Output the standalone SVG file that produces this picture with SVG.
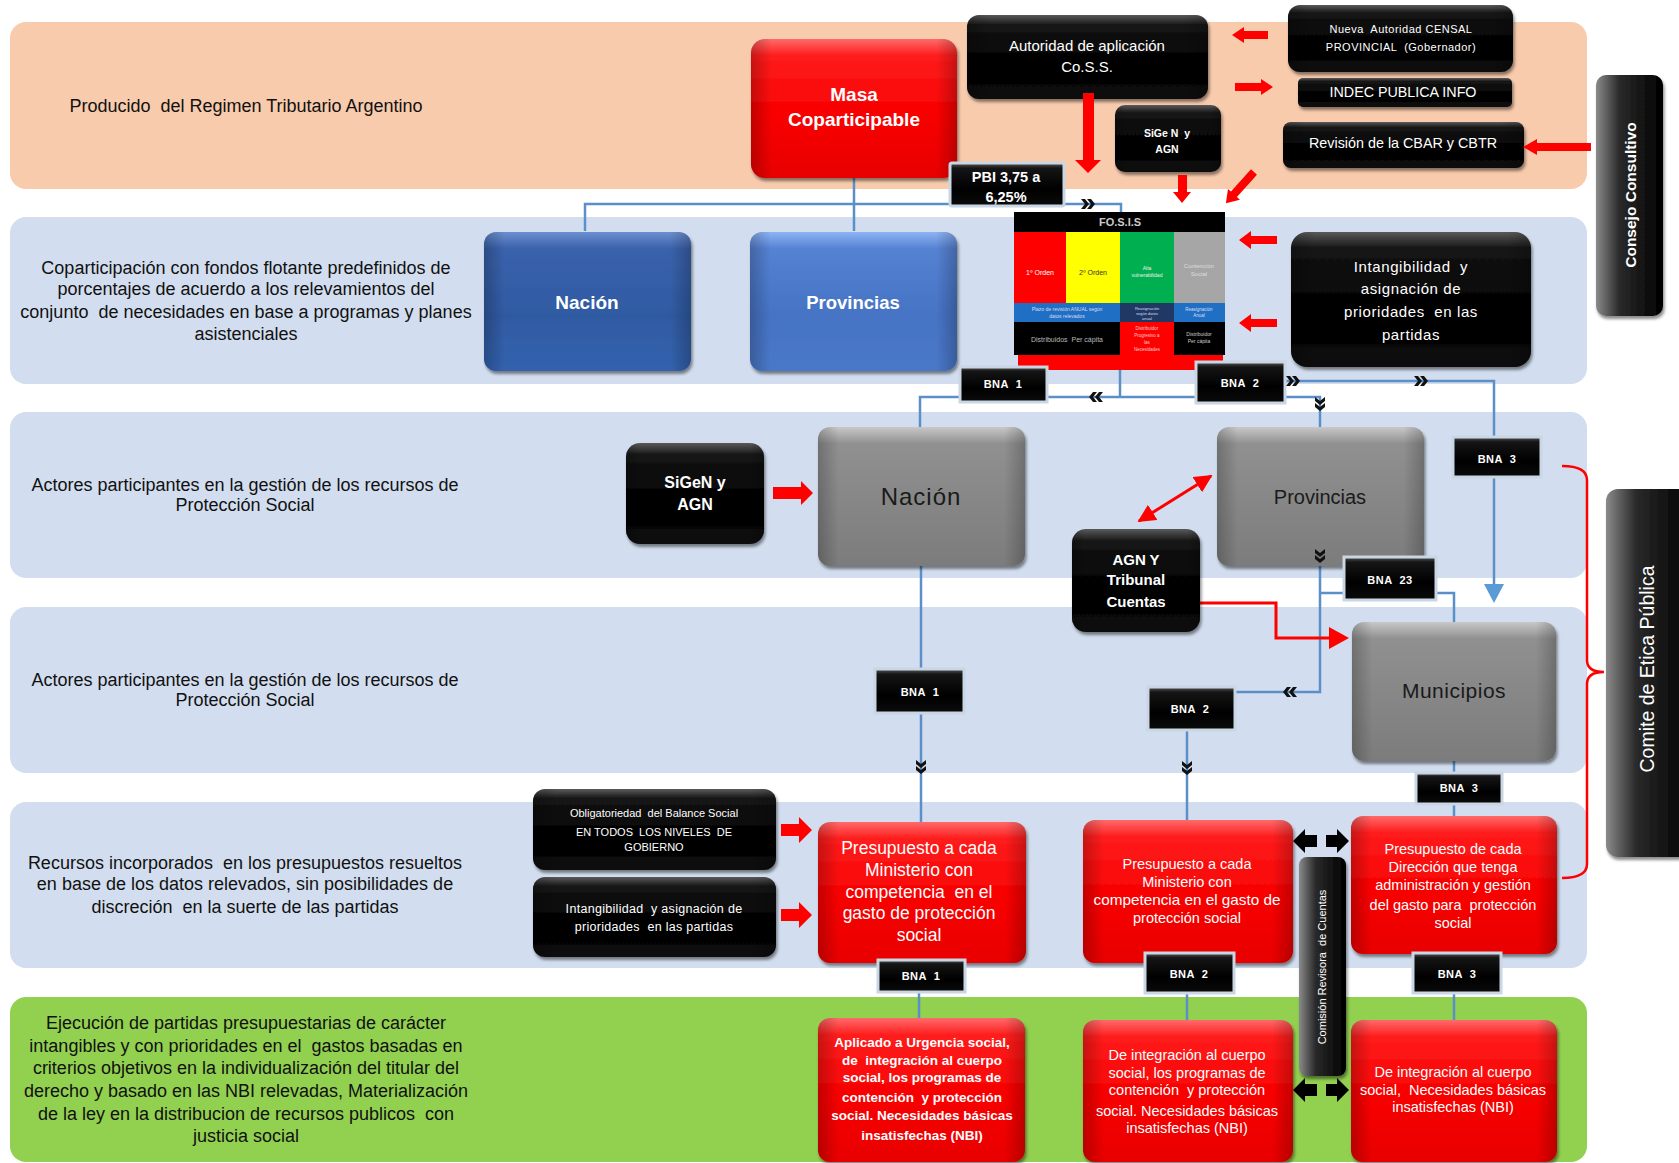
<svg xmlns="http://www.w3.org/2000/svg" xmlns:xlink="http://www.w3.org/1999/xlink" width="1679" height="1163" viewBox="0 0 1679 1163" xml:space="preserve">
<defs>
<style>
text{font-family:"Liberation Sans",Arial,sans-serif;white-space:pre}
.lb{font-size:18px;fill:#111;text-anchor:middle}
.w{fill:#fff;text-anchor:middle}
.b{font-weight:bold}
.dk{fill:#1a1a1a;text-anchor:middle}
.bna{font-size:11px;font-weight:bold;fill:#fff;text-anchor:middle;letter-spacing:0.5px}
.blk{fill:url(#gBlk)}
.red{fill:url(#gRed)}
.gry{fill:url(#gGry)}
.ov{fill:url(#gSide)}
.sh{filter:url(#sh)}
.bnabox{fill:url(#gBlk);stroke:#C9D6E3;stroke-width:3}
.con{fill:none;stroke:#5B8FC8;stroke-width:2.5}
.rl{fill:none;stroke:#f00;stroke-width:3}
.ra{fill:#f00}
.ka{fill:#000}
.ch{fill:#111}
</style>
<linearGradient id="gBlk" x1="0" y1="0" x2="0" y2="1">
<stop offset="0" stop-color="#5a5a5a"/><stop offset="0.12" stop-color="#151515"/><stop offset="0.6" stop-color="#000"/><stop offset="1" stop-color="#0b0b0b"/>
</linearGradient>
<linearGradient id="gRed" x1="0" y1="0" x2="0" y2="1">
<stop offset="0" stop-color="#FF6A6A"/><stop offset="0.12" stop-color="#FF1C1C"/><stop offset="0.55" stop-color="#F80000"/><stop offset="1" stop-color="#E80000"/>
</linearGradient>
<linearGradient id="gGry" x1="0" y1="0" x2="0" y2="1">
<stop offset="0" stop-color="#C8C8C8"/><stop offset="0.12" stop-color="#909090"/><stop offset="0.6" stop-color="#858585"/><stop offset="1" stop-color="#7C7C7C"/>
</linearGradient>
<linearGradient id="gBlueD" x1="0" y1="0" x2="0" y2="1">
<stop offset="0" stop-color="#6C8FCF"/><stop offset="0.12" stop-color="#3A62AC"/><stop offset="0.6" stop-color="#2F5AA2"/><stop offset="1" stop-color="#3462AE"/>
</linearGradient>
<linearGradient id="gBlueL" x1="0" y1="0" x2="0" y2="1">
<stop offset="0" stop-color="#8DB3F3"/><stop offset="0.12" stop-color="#5582D2"/><stop offset="0.6" stop-color="#4673C4"/><stop offset="1" stop-color="#4A78C8"/>
</linearGradient>
<linearGradient id="gSide" x1="0" y1="0" x2="1" y2="0">
<stop offset="0" stop-color="#000" stop-opacity="0.22"/><stop offset="0.1" stop-color="#000" stop-opacity="0"/><stop offset="0.9" stop-color="#000" stop-opacity="0"/><stop offset="1" stop-color="#000" stop-opacity="0.22"/>
</linearGradient>
<linearGradient id="gSideBar" x1="0" y1="0" x2="1" y2="0">
<stop offset="0" stop-color="#8a8a8a"/><stop offset="0.35" stop-color="#2a2a2a"/><stop offset="1" stop-color="#000"/>
</linearGradient>
<filter id="sh" x="-10%" y="-10%" width="125%" height="130%">
<feDropShadow dx="1.5" dy="3" stdDeviation="1.5" flood-color="#000" flood-opacity="0.45"/>
</filter>
<marker id="rm" viewBox="0 0 10 10" refX="9" refY="5" markerWidth="6" markerHeight="6" orient="auto-start-reverse">
<path d="M0,0 L10,5 L0,10 z" fill="#f00"/>
</marker>
<path id="chv" d="M-7,-5 L-3,-5 L1,0 L-3,5 L-7,5 L-3,0 Z M-1,-5 L3,-5 L7,0 L3,5 L-1,5 L3,0 Z"/>
</defs>
<rect width="1679" height="1163" fill="#fff"/>
<g id="bands">
<rect x="10" y="22" width="1577" height="167" rx="16" fill="#F8CBAD"/>
<rect x="10" y="217" width="1577" height="167" rx="16" fill="#D2DEEF"/>
<rect x="10" y="412" width="1577" height="166" rx="16" fill="#D2DEEF"/>
<rect x="10" y="607" width="1577" height="166" rx="16" fill="#D2DEEF"/>
<rect x="10" y="802" width="1577" height="166" rx="16" fill="#D2DEEF"/>
<rect x="10" y="997" width="1577" height="165" rx="16" fill="#92D050"/>
<text class="lb" x="246" y="112">Producido  del Regimen Tributario Argentino</text>
<text class="lb" x="246" y="274">Coparticipación con fondos flotante predefinidos de</text>
<text class="lb" x="246" y="295">porcentajes de acuerdo a los relevamientos del</text>
<text class="lb" x="246" y="318">conjunto  de necesidades en base a programas y planes</text>
<text class="lb" x="246" y="340">asistenciales</text>
<text class="lb" x="245" y="491">Actores participantes en la gestión de los recursos de</text>
<text class="lb" x="245" y="511">Protección Social</text>
<text class="lb" x="245" y="686">Actores participantes en la gestión de los recursos de</text>
<text class="lb" x="245" y="706">Protección Social</text>
<text class="lb" x="245" y="869">Recursos incorporados  en los presupuestos resueltos</text>
<text class="lb" x="245" y="890">en base de los datos relevados, sin posibilidades de</text>
<text class="lb" x="245" y="913">discreción  en la suerte de las partidas</text>
<text class="lb" x="246" y="1029">Ejecución de partidas presupuestarias de carácter</text>
<text class="lb" x="246" y="1052">intangibles y con prioridades en el  gastos basadas en</text>
<text class="lb" x="246" y="1074">criterios objetivos en la individualización del titular del</text>
<text class="lb" x="246" y="1097">derecho y basado en las NBI relevadas, Materialización</text>
<text class="lb" x="246" y="1120">de la ley en la distribucion de recursos publicos  con</text>
<text class="lb" x="246" y="1142">justicia social</text>
</g>
<g id="connectors">
<path class="con" d="M585,231 V204 H1121 V212"/>
<path class="con" d="M854,176 V231"/>
<path class="con" d="M1120,370 V397"/>
<path class="con" d="M920,428 V397 H1320 V427"/>
<path class="con" d="M1285,381 H1494 V586"/>
<polygon points="1484,584 1504,584 1494,603" fill="#5B9BD5"/>
<path class="con" d="M921,566 V822"/>
<path class="con" d="M1320,566 V692 H1187 V820"/>
<path class="con" d="M1320,593 H1454 V622"/>
<path class="con" d="M1454,761 V817"/>
<path class="con" d="M919,963 V1018"/>
<path class="con" d="M1187,963 V1020"/>
<path class="con" d="M1454,954 V1020"/>
<path class="rl" d="M1200,603 H1276 V638 H1332"/>
<polygon class="ra" points="1329,627 1349,638 1329,649"/>
<line class="rl" x1="1139" y1="521" x2="1211" y2="476" marker-start="url(#rm)" marker-end="url(#rm)"/>
<path d="M1562,466 Q1587,466 1587,480 V660 Q1587,672 1604,672 Q1587,672 1587,684 V864 Q1587,878 1562,878" fill="none" stroke="#f00" stroke-width="2.5"/>
</g>
<g id="n-masa">
<rect class="red sh" x="751" y="39" width="206" height="139" rx="14"/>
<rect class="ov" x="751" y="39" width="206" height="139" rx="14"/>
<text class="w b" x="854" y="101" style="font-size:19px">Masa</text>
<text class="w b" x="854" y="126" style="font-size:19px">Coparticipable</text>
</g>
<g id="n-autoridad">
<rect class="blk sh" x="967" y="15" width="241" height="84" rx="12"/>
<rect class="ov" x="967" y="15" width="241" height="84" rx="12"/>
<text class="w" x="1087" y="51" style="font-size:15px">Autoridad de aplicación</text>
<text class="w" x="1087" y="72" style="font-size:15px">Co.S.S.</text>
</g>
<g id="n-sigen1">
<rect class="blk sh" x="1115" y="105" width="106" height="67" rx="10"/>
<rect class="ov" x="1115" y="105" width="106" height="67" rx="10"/>
<text class="w b" x="1167" y="137" style="font-size:10.5px">SiGe N  y</text>
<text class="w b" x="1167" y="153" style="font-size:10.5px">AGN</text>
</g>
<g id="n-pbi">
<rect class="bnabox" x="950" y="163" width="114" height="43" rx="2"/>
<text class="w b" x="1006" y="182" style="font-size:14.5px">PBI 3,75 a</text>
<text class="w b" x="1006" y="202" style="font-size:14.5px">6,25%</text>
</g>
<g id="n-nueva">
<rect class="blk sh" x="1288" y="5" width="225" height="67" rx="12"/>
<rect class="ov" x="1288" y="5" width="225" height="67" rx="12"/>
<text class="w" x="1401" y="33" style="font-size:11px;letter-spacing:0.5px">Nueva  Autoridad CENSAL</text>
<text class="w" x="1401" y="51" style="font-size:11px;letter-spacing:0.5px">PROVINCIAL  (Gobernador)</text>
</g>
<g id="n-indec">
<rect class="blk sh" x="1298" y="78" width="214" height="29" rx="5"/>
<text class="w" x="1403" y="97" style="font-size:14px" textLength="147" lengthAdjust="spacingAndGlyphs">INDEC PUBLICA INFO</text>
</g>
<g id="n-revision">
<rect class="blk sh" x="1283" y="122" width="241" height="46" rx="8"/>
<rect class="ov" x="1283" y="122" width="241" height="46" rx="8"/>
<text class="w" x="1403" y="148" style="font-size:15px" textLength="188" lengthAdjust="spacingAndGlyphs">Revisión de la CBAR y CBTR</text>
</g>
<g id="n-fosis">
<rect x="1018" y="340" width="205" height="30" fill="#f00"/>
<rect x="1014" y="212" width="211" height="143" fill="#000"/>
<text x="1120" y="226" style="font-size:11px;font-weight:bold;fill:#ccc;text-anchor:middle">FO.S.I.S</text>
<rect x="1014" y="232" width="52" height="71" fill="#f00"/>
<rect x="1066" y="232" width="54" height="71" fill="#ffff00"/>
<rect x="1120" y="232" width="54" height="71" fill="#00B050"/>
<rect x="1174" y="232" width="51" height="71" fill="#A6A6A6"/>
<rect x="1014" y="303" width="106" height="19" fill="#1F6FC5"/>
<rect x="1120" y="303" width="54" height="19" fill="#1F3864"/>
<rect x="1174" y="303" width="51" height="19" fill="#1F6FC5"/>
<rect x="1120" y="322" width="54" height="33" fill="#f00"/>
<text x="1040" y="275" style="font-size:7px;fill:#fff;text-anchor:middle">1º Orden</text>
<text x="1093" y="275" style="font-size:7px;fill:#333;text-anchor:middle">2º Orden</text>
<text x="1147" y="270" style="font-size:5px;fill:#eee;text-anchor:middle">Alta</text>
<text x="1147" y="277" style="font-size:5px;fill:#eee;text-anchor:middle">vulnerabilidad</text>
<text x="1199" y="268" style="font-size:6px;fill:#ddd;text-anchor:middle">Contención</text>
<text x="1199" y="276" style="font-size:6px;fill:#ddd;text-anchor:middle">Social</text>
<text x="1067" y="311" style="font-size:5px;fill:#dde;text-anchor:middle">Plazo de revisión ANUAL según</text>
<text x="1067" y="318" style="font-size:5px;fill:#dde;text-anchor:middle">datos relevados</text>
<text x="1147" y="310" style="font-size:4px;fill:#dde;text-anchor:middle">Reasignación</text>
<text x="1147" y="315" style="font-size:4px;fill:#dde;text-anchor:middle">según datos</text>
<text x="1147" y="320" style="font-size:4px;fill:#dde;text-anchor:middle">anual</text>
<text x="1199" y="311" style="font-size:4.5px;fill:#dde;text-anchor:middle">Reasignación</text>
<text x="1199" y="317" style="font-size:4.5px;fill:#dde;text-anchor:middle">Anual</text>
<text x="1067" y="342" style="font-size:7px;fill:#bbb;text-anchor:middle">Distribuidos  Per cápita</text>
<text x="1147" y="330" style="font-size:4.5px;fill:#fcc;text-anchor:middle">Distribuidor</text>
<text x="1147" y="337" style="font-size:4.5px;fill:#fcc;text-anchor:middle">Progresivo a</text>
<text x="1147" y="344" style="font-size:4.5px;fill:#fcc;text-anchor:middle">las</text>
<text x="1147" y="351" style="font-size:4.5px;fill:#fcc;text-anchor:middle">Necesidades</text>
<text x="1199" y="336" style="font-size:5px;fill:#ccc;text-anchor:middle">Distribuidor</text>
<text x="1199" y="343" style="font-size:5px;fill:#ccc;text-anchor:middle">Per cápita</text>
</g>
<g id="n-intang1">
<rect class="blk sh" x="1291" y="232" width="240" height="135" rx="16"/>
<rect class="ov" x="1291" y="232" width="240" height="135" rx="16"/>
<text class="w" x="1411" y="272" style="font-size:15px;letter-spacing:0.6px">Intangibilidad  y</text>
<text class="w" x="1411" y="294" style="font-size:15px;letter-spacing:0.6px">asignación de</text>
<text class="w" x="1411" y="317" style="font-size:15px;letter-spacing:0.6px">prioridades  en las</text>
<text class="w" x="1411" y="340" style="font-size:15px;letter-spacing:0.6px">partidas</text>
</g>
<g id="n-nacion-b">
<rect class="sh" x="484" y="232" width="207" height="139" rx="12" fill="url(#gBlueD)"/>
<rect class="ov" x="484" y="232" width="207" height="139" rx="12"/>
<text class="w b" x="587" y="309" style="font-size:19px">Nación</text>
</g>
<g id="n-prov-b">
<rect class="sh" x="750" y="232" width="207" height="139" rx="12" fill="url(#gBlueL)"/>
<rect class="ov" x="750" y="232" width="207" height="139" rx="12"/>
<text class="w b" x="853" y="309" style="font-size:18.5px">Provincias</text>
</g>
<g id="n-bna1a">
<rect class="bnabox" x="960" y="367" width="87" height="35"/>
<text class="bna" x="1003" y="388">BNA  1</text>
</g>
<g id="n-bna2a">
<rect class="bnabox" x="1196" y="362" width="89" height="41"/>
<text class="bna" x="1240" y="387">BNA  2</text>
</g>
<g id="n-sigen2">
<rect class="blk sh" x="626" y="443" width="138" height="101" rx="14"/>
<rect class="ov" x="626" y="443" width="138" height="101" rx="14"/>
<text class="w b" x="695" y="488" style="font-size:16px">SiGeN y</text>
<text class="w b" x="695" y="510" style="font-size:16px">AGN</text>
</g>
<g id="n-nacion-g">
<rect class="gry sh" x="818" y="427" width="207" height="139" rx="12"/>
<rect class="ov" x="818" y="427" width="207" height="139" rx="12"/>
<text class="dk" x="921" y="505" style="font-size:24px;letter-spacing:1px">Nación</text>
</g>
<g id="n-prov-g">
<rect class="gry sh" x="1217" y="427" width="207" height="139" rx="12"/>
<rect class="ov" x="1217" y="427" width="207" height="139" rx="12"/>
<text class="dk" x="1320" y="504" style="font-size:20px">Provincias</text>
</g>
<g id="n-agn">
<rect class="blk sh" x="1072" y="529" width="128" height="103" rx="14"/>
<rect class="ov" x="1072" y="529" width="128" height="103" rx="14"/>
<text class="w b" x="1136" y="565" style="font-size:15px">AGN Y</text>
<text class="w b" x="1136" y="585" style="font-size:15px">Tribunal</text>
<text class="w b" x="1136" y="607" style="font-size:15px">Cuentas</text>
</g>
<g id="n-bna3a">
<rect class="bnabox" x="1453" y="437" width="88" height="40"/>
<text class="bna" x="1497" y="463">BNA  3</text>
</g>
<g id="n-bna23">
<rect class="bnabox" x="1344" y="557" width="92" height="43"/>
<text class="bna" x="1390" y="584">BNA  23</text>
</g>
<g id="n-muni">
<rect class="gry sh" x="1352" y="622" width="204" height="139" rx="12"/>
<rect class="ov" x="1352" y="622" width="204" height="139" rx="12"/>
<text class="dk" x="1454" y="698" style="font-size:21px;letter-spacing:0.5px">Municipios</text>
</g>
<g id="n-bna1b">
<rect class="bnabox" x="875" y="669" width="89" height="44"/>
<text class="bna" x="920" y="696">BNA  1</text>
</g>
<g id="n-bna2b">
<rect class="bnabox" x="1148" y="687" width="87" height="43"/>
<text class="bna" x="1190" y="713">BNA  2</text>
</g>
<g id="n-bna3b">
<rect class="bnabox" x="1416" y="773" width="86" height="31"/>
<text class="bna" x="1459" y="792">BNA  3</text>
</g>
<g id="n-oblig">
<rect class="blk sh" x="533" y="789" width="243" height="81" rx="12"/>
<rect class="ov" x="533" y="789" width="243" height="81" rx="12"/>
<text class="w" x="654" y="817" style="font-size:11px">Obligatoriedad  del Balance Social</text>
<text class="w" x="654" y="836" style="font-size:11px">EN TODOS  LOS NIVELES  DE</text>
<text class="w" x="654" y="851" style="font-size:11px">GOBIERNO</text>
</g>
<g id="n-intang2">
<rect class="blk sh" x="533" y="877" width="243" height="80" rx="12"/>
<rect class="ov" x="533" y="877" width="243" height="80" rx="12"/>
<text class="w" x="654" y="913" style="font-size:12.5px;letter-spacing:0.3px">Intangibilidad  y asignación de</text>
<text class="w" x="654" y="931" style="font-size:12.5px;letter-spacing:0.3px">prioridades  en las partidas</text>
</g>
<g id="n-pres1">
<rect class="red sh" x="818" y="822" width="208" height="141" rx="12"/>
<rect class="ov" x="818" y="822" width="208" height="141" rx="12"/>
<text class="w" x="919" y="854" style="font-size:17.5px">Presupuesto a cada</text>
<text class="w" x="919" y="876" style="font-size:17.5px">Ministerio con</text>
<text class="w" x="919" y="898" style="font-size:17.5px">competencia  en el</text>
<text class="w" x="919" y="919" style="font-size:17.5px">gasto de protección</text>
<text class="w" x="919" y="941" style="font-size:17.5px">social</text>
</g>
<g id="n-pres2">
<rect class="red sh" x="1083" y="820" width="210" height="143" rx="12"/>
<rect class="ov" x="1083" y="820" width="210" height="143" rx="12"/>
<text class="w" x="1187" y="869" style="font-size:14.5px">Presupuesto a cada</text>
<text class="w" x="1187" y="887" style="font-size:14.5px">Ministerio con</text>
<text class="w" x="1187" y="905" style="font-size:14.5px" textLength="187" lengthAdjust="spacingAndGlyphs">competencia en el gasto de</text>
<text class="w" x="1187" y="923" style="font-size:14.5px">protección social</text>
</g>
<g id="n-pres3">
<rect class="red sh" x="1351" y="816" width="206" height="138" rx="12"/>
<rect class="ov" x="1351" y="816" width="206" height="138" rx="12"/>
<text class="w" x="1453" y="854" style="font-size:14.5px">Presupuesto de cada</text>
<text class="w" x="1453" y="872" style="font-size:14.5px">Dirección que tenga</text>
<text class="w" x="1453" y="890" style="font-size:14.5px">administración y gestión</text>
<text class="w" x="1453" y="910" style="font-size:14.5px">del gasto para  protección</text>
<text class="w" x="1453" y="928" style="font-size:14.5px">social</text>
</g>
<g id="n-bna1c">
<rect class="bnabox" x="878" y="960" width="87" height="32"/>
<text class="bna" x="921" y="980">BNA  1</text>
</g>
<g id="n-bna2c">
<rect class="bnabox" x="1145" y="953" width="89" height="40"/>
<text class="bna" x="1189" y="978">BNA  2</text>
</g>
<g id="n-bna3c">
<rect class="bnabox" x="1413" y="953" width="88" height="40"/>
<text class="bna" x="1457" y="978">BNA  3</text>
</g>
<g id="n-apl1">
<rect class="red sh" x="818" y="1018" width="207" height="144" rx="12"/>
<rect class="ov" x="818" y="1018" width="207" height="144" rx="12"/>
<text class="w b" x="922" y="1047" style="font-size:13.5px">Aplicado a Urgencia social,</text>
<text class="w b" x="922" y="1065" style="font-size:13.5px">de  integración al cuerpo</text>
<text class="w b" x="922" y="1082" style="font-size:13.5px">social, los programas de</text>
<text class="w b" x="922" y="1102" style="font-size:13.5px">contención  y protección</text>
<text class="w b" x="922" y="1120" style="font-size:13.5px">social. Necesidades básicas</text>
<text class="w b" x="922" y="1140" style="font-size:13.5px">insatisfechas (NBI)</text>
</g>
<g id="n-apl2">
<rect class="red sh" x="1083" y="1020" width="210" height="142" rx="12"/>
<rect class="ov" x="1083" y="1020" width="210" height="142" rx="12"/>
<text class="w" x="1187" y="1060" style="font-size:14.5px">De integración al cuerpo</text>
<text class="w" x="1187" y="1078" style="font-size:14.5px">social, los programas de</text>
<text class="w" x="1187" y="1095" style="font-size:14.5px">contención  y protección</text>
<text class="w" x="1187" y="1116" style="font-size:14.5px">social. Necesidades básicas</text>
<text class="w" x="1187" y="1133" style="font-size:14.5px">insatisfechas (NBI)</text>
</g>
<g id="n-apl3">
<rect class="red sh" x="1351" y="1020" width="206" height="142" rx="12"/>
<rect class="ov" x="1351" y="1020" width="206" height="142" rx="12"/>
<text class="w" x="1453" y="1077" style="font-size:14.5px">De integración al cuerpo</text>
<text class="w" x="1453" y="1095" style="font-size:14.5px">social,  Necesidades básicas</text>
<text class="w" x="1453" y="1112" style="font-size:14.5px">insatisfechas (NBI)</text>
</g>
<g id="n-comision">
<rect class="sh" x="1299" y="857" width="47" height="219" rx="8" fill="url(#gSideBar)"/>
<text class="w" transform="translate(1326,967) rotate(-90)" style="font-size:11px">Comisión Revisora  de Cuentas</text>
</g>
<g id="n-consejo">
<rect class="sh" x="1596" y="75" width="67" height="241" rx="10" fill="url(#gSideBar)"/>
<text class="w b" transform="translate(1636,195) rotate(-90)" style="font-size:15.5px">Consejo Consultivo</text>
</g>
<g id="n-comite">
<rect class="sh" x="1606" y="489" width="85" height="368" rx="12" fill="url(#gSideBar)"/>
<text class="w" transform="translate(1654,669) rotate(-90)" style="font-size:19.5px">Comite de Etica Pública</text>
</g>
<g id="arrows">
<use href="#chv" class="ch" transform="translate(1088,204)"/>
<use href="#chv" class="ch" transform="translate(1096,397) rotate(180)"/>
<use href="#chv" class="ch" transform="translate(1320,404) rotate(90)"/>
<use href="#chv" class="ch" transform="translate(1293,381)"/>
<use href="#chv" class="ch" transform="translate(1421,381)"/>
<use href="#chv" class="ch" transform="translate(1320,556) rotate(90)"/>
<use href="#chv" class="ch" transform="translate(1290,692) rotate(180)"/>
<use href="#chv" class="ch" transform="translate(921,767) rotate(90)"/>
<use href="#chv" class="ch" transform="translate(1187,768) rotate(90)"/>
<polygon class="ra" points="1232,35 1244,27 1244,31 1268,31 1268,39 1244,39 1244,43"/>
<polygon class="ra" points="1273,87 1261,79 1261,83 1235,83 1235,91 1261,91 1261,95"/>
<polygon class="ra" points="1523,147 1537,139 1537,143 1591,143 1591,151 1537,151 1537,155"/>
<polygon class="ra" points="1083,93 1094,93 1094,160 1101,160 1088,173 1075,160 1083,160"/>
<polygon class="ra" points="1178,175 1187,175 1187,192 1191,192 1182,203 1173,192 1178,192"/>
<polygon class="ra" transform="translate(1254,172) rotate(132)" points="0,-4 30,-4 30,-8 42,0 30,8 30,4 0,4"/>
<polygon class="ra" points="1239,240 1251,231 1251,236 1277,236 1277,244 1251,244 1251,249"/>
<polygon class="ra" points="1239,323 1251,314 1251,319 1277,319 1277,327 1251,327 1251,332"/>
<polygon class="ra" points="773,487 801,487 801,481 813,493 801,505 801,499 773,499"/>
<polygon class="ra" points="781,824 799,824 799,817 812,830 799,843 799,836 781,836"/>
<polygon class="ra" points="781,909 799,909 799,902 812,915 799,928 799,921 781,921"/>
<polygon class="ka" points="1293,841 1305,829 1305,835 1317,835 1317,847 1305,847 1305,853"/>
<polygon class="ka" points="1349,841 1337,829 1337,835 1326,835 1326,847 1337,847 1337,853"/>
<polygon class="ka" points="1293,1090 1305,1078 1305,1084 1317,1084 1317,1096 1305,1096 1305,1102"/>
<polygon class="ka" points="1349,1090 1337,1078 1337,1084 1326,1084 1326,1096 1337,1096 1337,1102"/>
</g>
</svg>
